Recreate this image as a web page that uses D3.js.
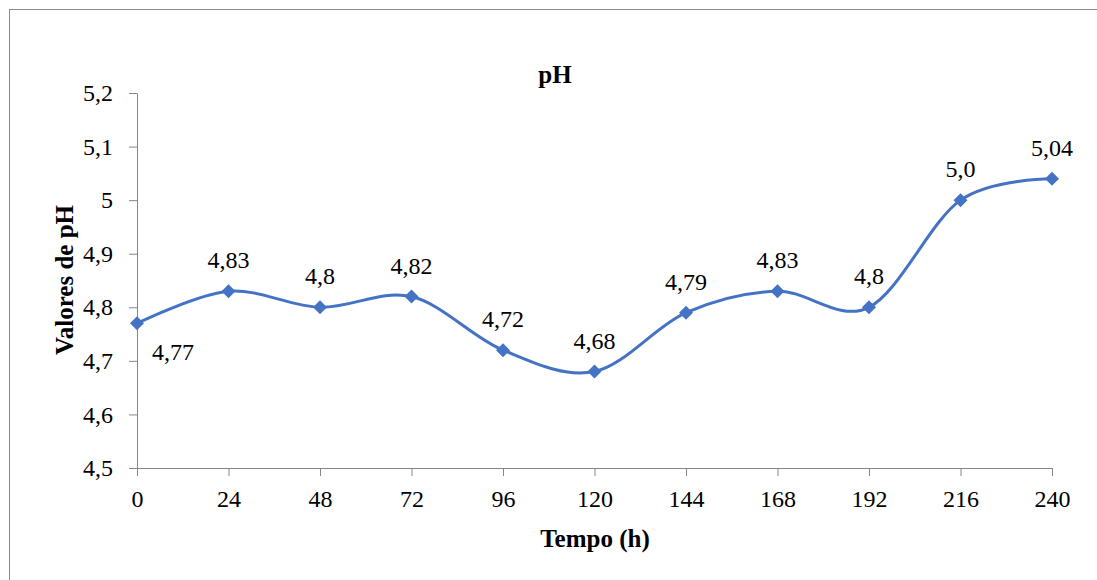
<!DOCTYPE html>
<html lang="pt">
<head>
<meta charset="UTF-8">
<title>pH</title>
<script src="https://d3js.org/d3.v7.min.js"></script>
<style>
  body { margin: 0; background: #fff; }
  .axis path, .axis line { stroke: #868686; }
</style>
</head>
<body>
<div id="chart"></div>
<script>
// data
var hours = [0, 24, 48, 72, 96, 120, 144, 168, 192, 216, 240];
var phValues = [4.77, 4.83, 4.8, 4.82, 4.72, 4.68, 4.79, 4.83, 4.8, 5.0, 5.04];
var pointLabels = ["4,77", "4,83", "4,8", "4,82", "4,72", "4,68", "4,79", "4,83", "4,8", "5,0", "5,04"];
var yTicks = [4.5, 4.6, 4.7, 4.8, 4.9, 5.0, 5.1, 5.2];

var FONT = "'Liberation Serif', 'Times New Roman', Tinos, 'DejaVu Serif', serif";

var W = 1097, H = 580;
var margin = {top: 93, right: 45, bottom: 112, left: 137};
var width = 1052 - margin.left;
var height = 468 - margin.top;

var svg = d3.select("#chart").append("svg")
  .attr("width", W).attr("height", H);

// outer frame
svg.append("rect")
  .attr("x", 9.5).attr("y", 9.5)
  .attr("width", W + 20).attr("height", H + 20)
  .attr("fill", "none").attr("stroke", "#8c8c8c");

var g = svg.append("g").attr("transform", "translate(" + margin.left + "," + margin.top + ")");

var x = d3.scaleLinear().domain([0, 240]).range([0, width]);
var y = d3.scaleLinear().domain([4.5, 5.2]).range([height, 0]);

var fmt = function(d) { return String(+d.toFixed(1)).replace(".", ","); };

var xAxis = g.append("g").attr("class", "axis")
  .call(d3.axisBottom(x).tickValues(hours).tickSize(8).tickPadding(14).tickSizeOuter(0));
xAxis.attr("transform", "translate(0," + height + ")")
  .attr("font-family", null).attr("font-size", null);
xAxis.selectAll("text").style("font-family", FONT).style("font-size", "24px").attr("fill", "#000");

var yAxis = g.append("g").attr("class", "axis")
  .call(d3.axisLeft(y).tickValues(yTicks).tickFormat(fmt).tickSize(8).tickPadding(16).tickSizeOuter(0));
yAxis.attr("font-family", null).attr("font-size", null);
yAxis.selectAll("text").style("font-family", FONT).style("font-size", "24px").attr("fill", "#000");

var line = d3.line()
  .x(function(d, i) { return x(hours[i]); })
  .y(function(d) { return y(d); })
  .curve(d3.curveCatmullRom.alpha(0));

g.append("path")
  .datum(phValues)
  .attr("fill", "none")
  .attr("stroke", "#4472C4")
  .attr("stroke-width", 3)
  .attr("d", line);

g.selectAll(".pt")
  .data(phValues)
  .enter().append("path")
  .attr("class", "pt")
  .attr("transform", function(d, i) { return "translate(" + x(hours[i]) + "," + y(d) + ")"; })
  .attr("d", "M0,-7L7,0L0,7L-7,0Z")
  .attr("fill", "#4472C4");

g.selectAll(".lbl")
  .data(phValues)
  .enter().append("text")
  .attr("class", "lbl")
  .attr("x", function(d, i) { return i === 0 ? x(hours[i]) + 36 : x(hours[i]); })
  .attr("y", function(d, i) { return i === 0 ? y(d) + 37 : y(d) - 23; })
  .attr("text-anchor", "middle")
  .style("font-family", FONT)
  .style("font-size", "24px")
  .text(function(d, i) { return pointLabels[i]; });

// titles
function title(xp, yp, txt, rot) {
  var t = svg.append("text")
    .attr("text-anchor", "middle")
    .style("font-family", FONT)
    .style("font-size", "25px").style("font-weight", "bold")
    .text(txt);
  if (rot) t.attr("transform", "translate(" + xp + "," + yp + ") rotate(-90)");
  else t.attr("x", xp).attr("y", yp);
}
title(555, 83, "pH");
title(595, 547, "Tempo (h)");
title(73, 280, "Valores de pH", true);
</script>
</body>
</html>
